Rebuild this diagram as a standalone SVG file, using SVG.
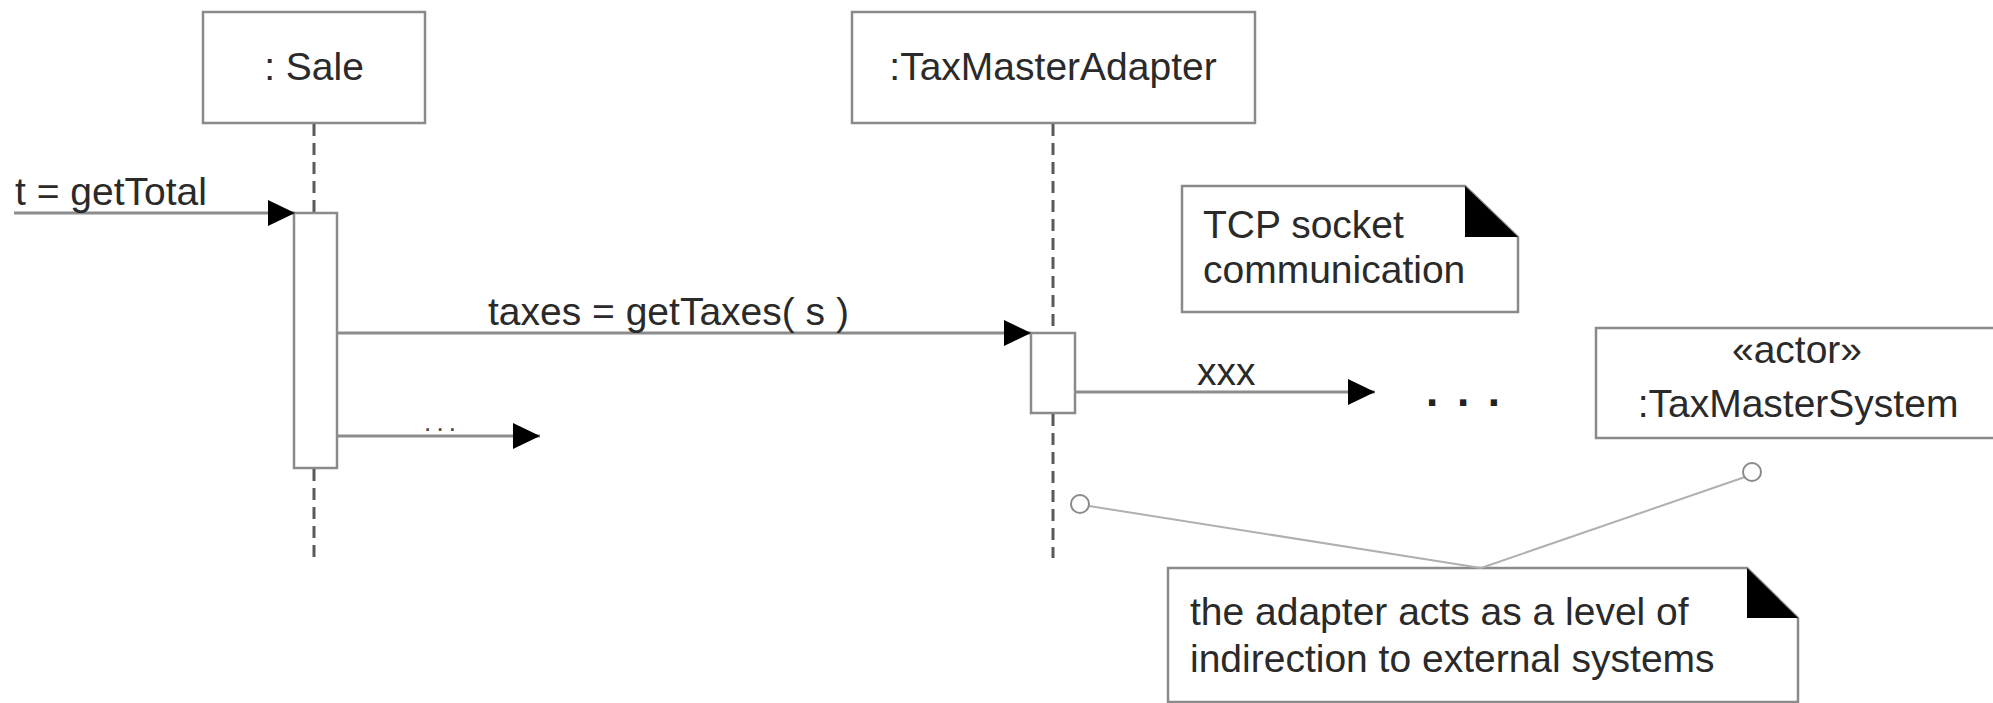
<svg xmlns="http://www.w3.org/2000/svg" width="1993" height="703" viewBox="0 0 1993 703">
<style>
.box{fill:#fff;stroke:#8a8a8a;stroke-width:2.5}
.life{stroke:#5a5a5a;stroke-width:3;stroke-dasharray:12 7;fill:none}
.msg{stroke:#8c8c8c;stroke-width:3;fill:none}
.anchor{stroke:#b0b0b0;stroke-width:2;fill:none}
.pin{fill:#fff;stroke:#8a8a8a;stroke-width:2}
.t{font-family:"Liberation Sans",Arial,sans-serif;font-size:39px;fill:#2a2a2a}
.c{text-anchor:middle}
.fold{fill:#000}
</style>
<defs>
<marker id="arr" markerUnits="userSpaceOnUse" markerWidth="28" markerHeight="27" refX="27" refY="13" orient="auto">
<path d="M0,0 L27,13 L0,26 Z" fill="#000"/>
</marker>
</defs>
<rect width="1993" height="703" fill="#fff"/>

<g id="sale">
<rect class="box" x="203" y="12" width="222" height="111"/>
<text class="t c" x="314" y="80">: Sale</text>
<line class="life" x1="314" y1="124" x2="314" y2="213"/>
<rect class="box" x="294" y="213" width="43" height="255"/>
<line class="life" x1="314" y1="469" x2="314" y2="560"/>
</g>

<g id="adapter">
<rect class="box" x="852" y="12" width="403" height="111"/>
<text class="t c" x="1053" y="80">:TaxMasterAdapter</text>
<line class="life" x1="1053" y1="124" x2="1053" y2="333"/>
<rect class="box" x="1031" y="333" width="44" height="80"/>
<line class="life" x1="1053" y1="414" x2="1053" y2="558"/>
</g>

<g id="actor">
<rect class="box" x="1596" y="328" width="405" height="110"/>
<text class="t c" x="1797" y="363">«actor»</text>
<text class="t c" x="1798" y="417">:TaxMasterSystem</text>
</g>

<g id="note-tcp">
<path class="box" d="M1182,186 L1465,186 L1518,237 L1518,312 L1182,312 Z"/>
<path class="fold" d="M1465,186 L1465,237 L1518,237 Z"/>
<text class="t" x="1203" y="238">TCP socket</text>
<text class="t" x="1203" y="283">communication</text>
</g>

<g id="note-adapter">
<path class="box" d="M1168,568 L1747,568 L1798,618 L1798,702 L1168,702 Z"/>
<path class="fold" d="M1747,568 L1747,618 L1798,618 Z"/>
<text class="t" x="1190" y="625">the adapter acts as a level of</text>
<text class="t" x="1190" y="672">indirection to external systems</text>
</g>

<g id="connectors">
<line class="msg" x1="14" y1="213" x2="295" y2="213" marker-end="url(#arr)"/>
<text class="t" x="15" y="205">t = getTotal</text>
<line class="msg" x1="337" y1="333" x2="1031" y2="333" marker-end="url(#arr)"/>
<text class="t" x="488" y="325">taxes = getTaxes( s )</text>
<line class="msg" x1="337" y1="436" x2="540" y2="436" marker-end="url(#arr)"/>
<text class="t" x="424" y="431" style="font-size:26px;fill:#444" textLength="32" lengthAdjust="spacing">...</text>
<line class="msg" x1="1075" y1="392" x2="1375" y2="392" marker-end="url(#arr)"/>
<text class="t" x="1197" y="385">xxx</text>
<text class="t" x="1426" y="406" style="font-size:44px;font-weight:bold;fill:#222" textLength="74" lengthAdjust="spacing">. . .</text>
<line class="anchor" x1="1089" y1="506" x2="1481" y2="568"/>
<line class="anchor" x1="1481" y1="568" x2="1745" y2="477"/>
<circle class="pin" cx="1080" cy="504" r="9"/>
<circle class="pin" cx="1752" cy="472" r="9"/>
</g>
</svg>
